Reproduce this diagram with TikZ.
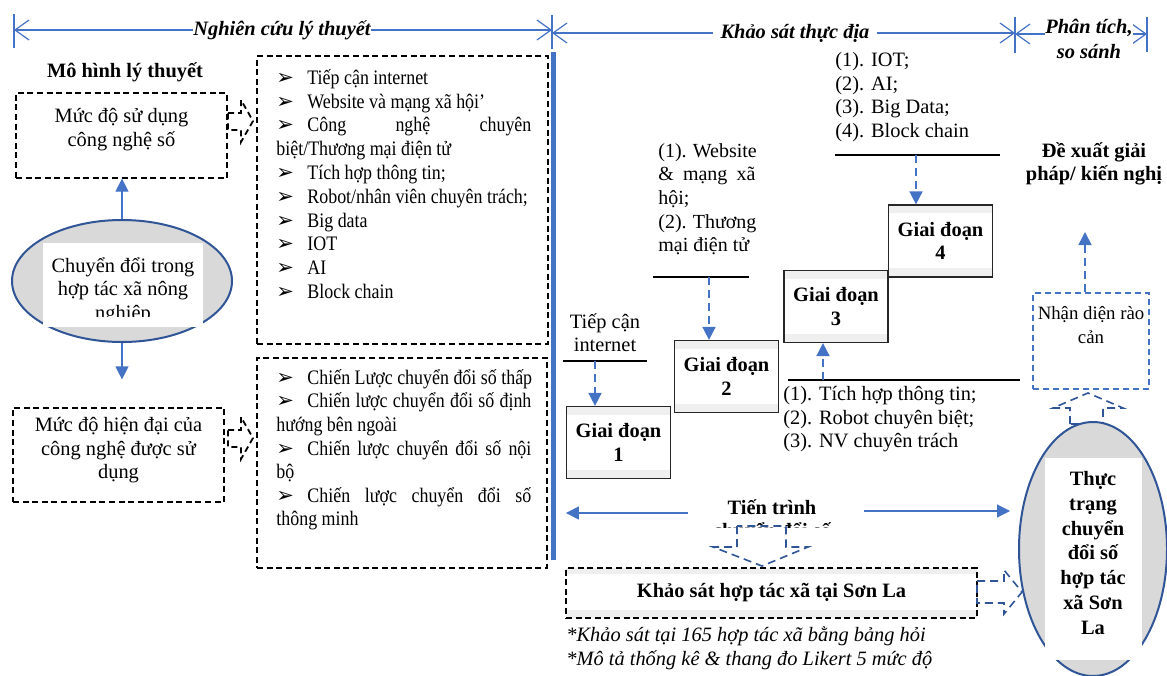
\documentclass[tikz,border=0pt]{standalone}
\usepackage{fontspec}
\setmainfont{Liberation Serif}
\newfontfamily\condfont{Liberation Serif}[FakeStretch=0.87]
\newfontfamily\symfont{DejaVu Sans}
\usetikzlibrary{arrows.meta, positioning, shapes.geometric}

\definecolor{lineblue}{HTML}{4472C4}
\definecolor{darkblue}{HTML}{2F5597}
\definecolor{ovalgray}{HTML}{D9D9D9}
\definecolor{bandgray}{HTML}{EFEFEF}

\newcommand{\bul}{\makebox[15.5pt][l]{\symfont\fontsize{10.5}{10}\selectfont ➢}}

\begin{document}
\begin{tikzpicture}[x=0.5pt, y=-0.5pt, on grid,
    font=\fontsize{10.2}{11.8}\selectfont,
    txt/.style={align=center, inner sep=0},
    bold/.style={font=\fontsize{10.2}{11.6}\selectfont\bfseries},
    dbox/.style={draw, dash pattern=on 3pt off 1.8pt, line width=0.6pt},
    bands/.style 2 args={path picture={
        \fill[bandgray] (path picture bounding box.north west) rectangle ([yshift=-#1]path picture bounding box.north east);
        \fill[bandgray] (path picture bounding box.south west) rectangle ([yshift=#2]path picture bounding box.south east);}},
    stage/.style={draw=black!85, fill=white, line width=0.6pt, minimum width=52pt, minimum height=36pt,
        inner sep=0, align=center, bold, bands={4pt}{4.5pt}},
    head/.style={draw=lineblue, line width=0.6pt, {Straight Barb[length=7pt,width=10pt]}-{Straight Barb[length=7pt,width=10pt]}},
    tick/.style={draw=lineblue, line width=0.6pt},
    barrow/.style={draw=lineblue, line width=0.6pt, -{Triangle[length=6.5pt,width=6.5pt]}},
    darrow/.style={draw=lineblue, line width=0.8pt, dash pattern=on 4pt off 2.5pt, -{Triangle[length=6.5pt,width=6.5pt]}},
    blk/.style={draw=darkblue, line width=0.8pt, dash pattern=on 4pt off 2.5pt},
    blkb/.style={draw, line width=0.9pt, dash pattern=on 3pt off 2pt},
    oval/.style={ellipse, draw=darkblue, fill=ovalgray, line width=1pt}
]
\useasboundingbox (0,0) rectangle (1167,675);

% tieu de
\coordinate (h_0) at (14,30);
\coordinate (h_1) at (552,30);
\coordinate (h_2) at (552,33);
\coordinate (h_3) at (1015,33);
\coordinate (h_4) at (1015,34);
\coordinate (h_5) at (1147,34);
\draw[tick] (14,14) -- (14,48) (552,15) -- (552,49) (1015,17) -- (1015,53) (1147,17) -- (1147,52);
\draw[head] (h_0) -- (h_1);
\draw[head] (h_2) -- (h_3);
\draw[head] (h_4) -- (h_5);
\node[txt, fill=white, font=\fontsize{10.2}{11.8}\selectfont\bfseries\itshape] (ly_thuyet) at (282,30) {Nghiên cứu lý thuyết};
\node[txt, fill=white, inner xsep=4pt, font=\fontsize{10.2}{11.8}\selectfont\bfseries\itshape] (thuc_dia) at (795,33) {Khảo sát thực địa};
\node[txt, fill=white, font=\fontsize{10.2}{12.4}\selectfont\bfseries\itshape] (phan_tich) at (1089,39) {Phân tích,\\so sánh};

% mo hinh ly thuyet
\node[txt, bold] (mo_hinh) at (125,72) {Mô hình lý thuyết};
\node[dbox, minimum width=105.5pt, minimum height=42.5pt] (muc_1) at (121.5,135.5) {};
\node[txt, anchor=north] (muc_1_txt) at (121.5,108) {Mức độ sử dụng\\công nghệ số};
\node[oval, minimum width=110pt, minimum height=61pt] (chuyen) at (122,281) {};
\node[fill=white, inner sep=0, minimum width=80pt, minimum height=42pt] (chuyen_bg) at (123,285) {};
\begin{scope}
    \clip (43,243) rectangle (203,316);
    \node[txt, anchor=north] (chuyen_txt) at (123,257) {Chuyển đổi trong\\hợp tác xã nông\\nghiệp};
\end{scope}
\node[dbox, minimum width=105.5pt, minimum height=47pt] (muc_2) at (118.5,455) {};
\node[txt, anchor=north] (muc_2_txt) at (118.5,417) {Mức độ hiện đại của\\công nghệ được sử\\dụng};
\draw[barrow] (chuyen.north) -- (chuyen.north |- muc_1.south);
\draw[barrow, shorten >=14pt] (chuyen.south) -- (chuyen.south |- muc_2.north);
\draw[blkb] (228,113) -- ++(13,0) -- ++(0,-13) -- ++(12,21) -- ++(-12,21) -- ++(0,-12) -- ++(-13,0) -- cycle;
\draw[blkb] (228,430) -- ++(13,0) -- ++(0,-13) -- ++(12,21) -- ++(-12,21) -- ++(0,-12) -- ++(-13,0) -- cycle;

% danh sach
\node[dbox, minimum width=145.5pt, minimum height=144pt] (ds_1) at (402.5,200) {};
\node[txt, align=left, anchor=north west, font=\condfont\fontsize{10.3}{11.9}\selectfont] (ds_1_txt) at (276,69) {%
    \bul Tiếp cận internet\\
    \bul Website và mạng xã hội’\\
    \makebox[127.5pt][s]{\bul Công nghệ chuyên}\\
    biệt/Thương mại điện tử\\
    \bul Tích hợp thông tin;\\
    \bul Robot/nhân viên chuyên trách;\\
    \bul Big data\\
    \bul IOT\\
    \bul AI\\
    \bul Block chain};
\node[dbox, minimum width=145pt, minimum height=105pt] (ds_2) at (402,463) {};
\node[txt, align=left, anchor=north west, font=\condfont\fontsize{10.3}{11.8}\selectfont] (ds_2_txt) at (276,369) {%
    \bul Chiến Lược chuyển đổi số thấp\\
    \makebox[127.5pt][s]{\bul Chiến lược chuyển đổi số định}\\
    hướng bên ngoài\\
    \makebox[127.5pt][s]{\bul Chiến lược chuyển đổi số nội}\\
    bộ\\
    \makebox[127.5pt][s]{\bul Chiến lược chuyển đổi số}\\
    thông minh};
\draw[lineblue, line width=2.5pt] (553,52) -- (553,560);

% cac giai doan
\node[stage] (giai_1) at (618.5,442.5) {Giai đoạn\\1};
\node[stage, above right=33pt and 54pt of giai_1] (giai_2) {Giai đoạn\\2};
\node[stage, above right=35pt and 54.75pt of giai_2] (giai_3) {Giai đoạn\\3};
\node[stage, above right=32.75pt and 52.25pt of giai_3] (giai_4) {Giai đoạn\\4};

\node[txt, anchor=north] (tiep_can) at (605,313) {Tiếp cận\\internet};
\draw[line width=0.75pt] (563,361) -- (647,361);
\coordinate (mui_1) at (595,361);
\draw[darrow] (mui_1) -- (mui_1 |- giai_1.north);

\node[txt, align=left, anchor=north west, font=\fontsize{10}{11.8}\selectfont] (web) at (658,143) {%
    \makebox[48.5pt][s]{(1). Website}\\
    \makebox[48.5pt][s]{\& mạng xã}\\
    hội;\\
    \makebox[48.5pt][s]{(2). Thương}\\
    mại điện tử};
\draw[line width=0.75pt] (653,277) -- (749,277);
\coordinate (mui_2) at (709,277);
\draw[darrow] (mui_2) -- (mui_2 |- giai_2.north);

\node[txt, align=left, anchor=north west] (tich_hop) at (783,386) {(1). Tích hợp thông tin;\\(2). Robot chuyên biệt;\\(3). NV chuyên trách};
\draw[line width=0.75pt] (788,380) -- (1020,380);
\coordinate (mui_3) at (823,380);
\draw[darrow] (mui_3) -- (mui_3 |- giai_3.south);

\node[txt, align=left, anchor=north west] (iot) at (835,52) {(1). IOT;\\(2). AI;\\(3). Big Data;\\(4). Block chain};
\draw[line width=0.75pt] (835,155) -- (1000,155);
\coordinate (mui_4) at (916,155);
\draw[darrow] (mui_4) -- (mui_4 |- giai_4.north);

% phan tich
\node[txt, anchor=north, bold] (de_xuat) at (1094,142) {Đề xuất giải\\pháp/ kiến nghị};
\node[draw=lineblue, dash pattern=on 3pt off 2pt, line width=0.7pt, minimum width=58pt, minimum height=48pt] (rao_can) at (1091,341) {};
\node[txt, anchor=north, font=\fontsize{9.4}{11.8}\selectfont] (rao_can_txt) at (1091,306) {Nhận diện rào\\cản};
\coordinate (mui_5) at (1085,232);
\draw[darrow] (mui_5 |- rao_can.north) -- (mui_5);
\draw[blk] (1070,424) -- (1070,408) -- (1053,408) -- (1088,393) -- (1123,408) -- (1103,408) -- (1103,424) -- cycle;

\node[oval, minimum width=74pt, minimum height=127pt] (thuc_trang) at (1093,549) {};
\node[fill=white, inner sep=0, minimum width=48.5pt, minimum height=101pt] (thuc_trang_bg) at (1093.5,559) {};
\node[txt, anchor=north, font=\fontsize{10.2}{12.4}\selectfont\bfseries] (thuc_trang_txt) at (1093,471) {Thực\\trạng\\chuyển\\đổi số\\hợp tác\\xã Sơn\\La};

% tien trinh
\begin{scope}
    \clip (670,490) rectangle (875,527);
    \node[txt, bold] (tien_trinh) at (772,521) {Tiến trình\\chuyển đổi số};
\end{scope}
\coordinate (tt_trai) at (688,513);
\coordinate (tt_phai) at (864,511);
\draw[barrow] (tt_trai) -- (tt_trai -| giai_1.west);
\draw[barrow, shorten >=4pt] (tt_phai) -- (tt_phai -| thuc_trang.west);
\draw[blk] (737,526) -- (737,547) -- (713,547) -- (762,566) -- (808,547) -- (786,547) -- (786,526) -- cycle;

\node[dbox, fill=white, minimum width=205.5pt, minimum height=25pt, bold, bands={3pt}{4pt}] (khao_sat) at (771.5,593) {Khảo sát hợp tác xã tại Sơn La};
\draw[blk] (977,581) -- (1004,581) -- (1004,570) -- (1022,592) -- (1004,614) -- (1004,603) -- (977,603) -- cycle;
\node[txt, align=left, anchor=north west, font=\fontsize{10.2}{12.4}\selectfont\itshape] (ghi_chu) at (566,626) {*Khảo sát tại 165 hợp tác xã bằng bảng hỏi\\*Mô tả thống kê \& thang đo Likert 5 mức độ};
\end{tikzpicture}
\end{document}
